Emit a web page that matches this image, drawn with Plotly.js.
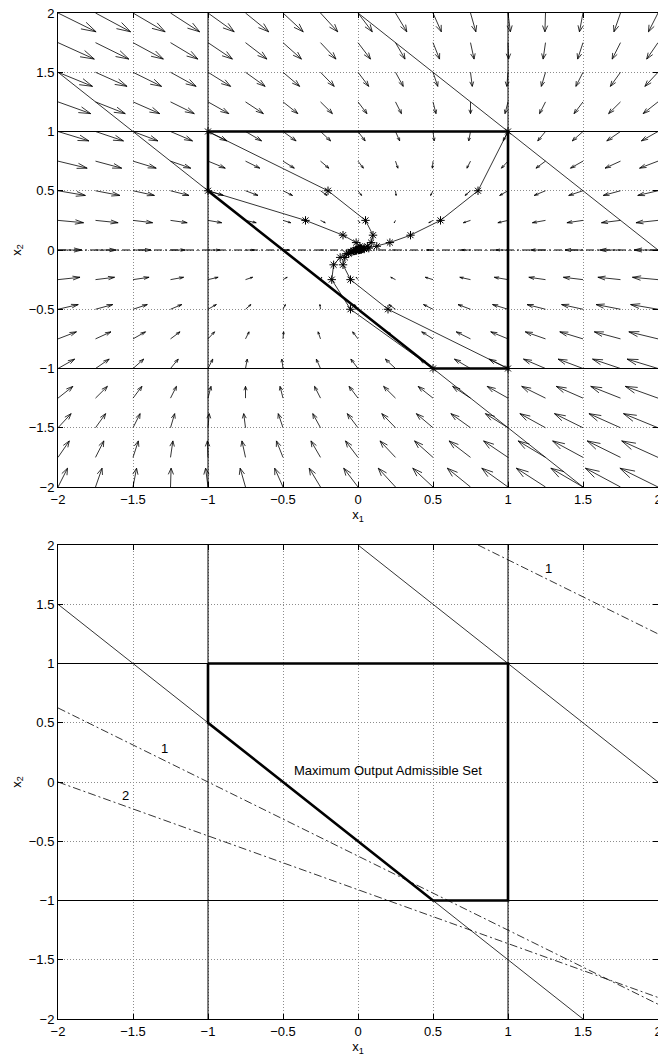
<!DOCTYPE html>
<html><head><meta charset="utf-8">
<script src="https://cdn.plot.ly/plotly-3.0.1.min.js"></script>
<style>html,body{margin:0;padding:0;background:#fff;}#chart{width:658px;height:1057px;}</style>
</head><body><div id="chart"></div>
<script>
// quiver grid (both axes)
const gridVals = [-2, -1.75, -1.5, -1.25, -1, -0.75, -0.5, -0.25, 0, 0.25, 0.5, 0.75, 1, 1.25, 1.5, 1.75, 2];
// system matrix x(k+1) = A x(k)
const A = [[0.5, 0.3], [0, 0.5]];
// maximum output admissible set
const setX = [-1, 1, 1, 0.5, -1, -1];
const setY = [1, 1, -1, -1, 0.5, 1];
// state constraint lines
const stateLimits = [-1, 1];
// output constraint lines x1+x2 = -0.5 and x1+x2 = 2
const outLowX = [-2, 1.5], outLowY = [1.5, -2];
const outHighX = [0, 2], outHighY = [2, 0];
// eigenvector line (top)
const eigX = [-2, 2], eigY = [0, 0];
// trajectories from the vertices
const traj1X = [1, 0.8, 0.55, 0.35, 0.2125, 0.125, 0.0719, 0.0406, 0.0227, 0.0125, 0.0068, 0.0037];
const traj1Y = [1, 0.5, 0.25, 0.125, 0.0625, 0.0313, 0.0156, 0.0078, 0.0039, 0.002, 0.001, 0.0005];
const traj2X = [-1, -0.2, 0.05, 0.1, 0.0875, 0.0625, 0.0406, 0.025, 0.0148, 0.0086, 0.0049];
const traj2Y = [1, 0.5, 0.25, 0.125, 0.0625, 0.0313, 0.0156, 0.0078, 0.0039, 0.002, 0.001];
const traj3X = [-1, -0.35, -0.1, -0.0125, 0.0125, 0.0156, 0.0125, 0.0086, 0.0055, 0.0033];
const traj3Y = [0.5, 0.25, 0.125, 0.0625, 0.0313, 0.0156, 0.0078, 0.0039, 0.002, 0.001];
const traj4X = [1, 0.2, -0.05, -0.1, -0.0875, -0.0625, -0.0406, -0.025, -0.0148, -0.0086];
const traj4Y = [-1, -0.5, -0.25, -0.125, -0.0625, -0.0313, -0.0156, -0.0078, -0.0039, -0.002];
const traj5X = [0.5, -0.05, -0.175, -0.1625, -0.1188, -0.0781, -0.0484, -0.0289, -0.0168, -0.0096];
const traj5Y = [-1, -0.5, -0.25, -0.125, -0.0625, -0.0313, -0.0156, -0.0078, -0.0039, -0.002];
// predicted output constraints (bottom)
const k1HighX = [0.8, 2], k1HighY = [2, 1.25];
const k1LowX = [-2, 2], k1LowY = [0.625, -1.875];
const k2LowX = [-2, 2], k2LowY = [0, -1.818];
const labelText = ['1', '1', '2', 'Maximum Output Admissible Set'];
const labelX = [1.27, -1.29, -1.55, 0.2];
const labelY = [1.8, 0.28, -0.11, 0.095];

// ---- quiver field (A - I) x, Matlab-style autoscale and heads
const n = gridVals.length;
const U = [], V = [], PX = [], PY = [];
for (const y of gridVals) for (const x of gridVals) {
  PX.push(x); PY.push(y);
  U.push((A[0][0] - 1) * x + A[0][1] * y);
  V.push(A[1][0] * x + (A[1][1] - 1) * y);
}
const delx = (gridVals[n-1] - gridVals[0]) / n;
const del = 2 * delx * delx;
let maxlen = 0;
for (let i = 0; i < U.length; i++) maxlen = Math.max(maxlen, Math.sqrt((U[i]*U[i] + V[i]*V[i]) / del));
const sc = 0.9 / maxlen;
const alpha = 0.33, beta = 0.33, eps = 1e-12;
const qx = [], qy = [];
for (let i = 0; i < U.length; i++) {
  const x = PX[i], y = PY[i], u = U[i]*sc, v = V[i]*sc;
  qx.push(x, x+u, null);
  qy.push(y, y+v, null);
  qx.push(x+u-alpha*(u+beta*(v+eps)), x+u, x+u-alpha*(u-beta*(v+eps)), null);
  qy.push(y+v-alpha*(v-beta*(u+eps)), y+v, y+v-alpha*(v+beta*(u+eps)), null);
}

const K = '#000';
function line(x, y, xa, ya, w, dash) {
  return {type:'scatter', mode:'lines', x:x, y:y, xaxis:xa, yaxis:ya,
    line:{color:K, width:w, dash:dash || 'solid'}, hoverinfo:'skip', showlegend:false};
}
function common(xa, ya) {
  const t = [];
  for (const s of stateLimits) {
    t.push(line([s, s], [-2, 2], xa, ya, 1));
    t.push(line([-2, 2], [s, s], xa, ya, 1));
  }
  t.push(line(outLowX, outLowY, xa, ya, 0.8));
  t.push(line(outHighX, outHighY, xa, ya, 0.8));
  t.push(line(setX, setY, xa, ya, 2.6));
  return t;
}
const DD = '8px,3px,2px,3px';
const traces = [];
traces.push(line(qx, qy, 'x', 'y', 0.8));
traces.push(line(eigX, eigY, 'x', 'y', 1.1, DD));
traces.push(...common('x', 'y'));
const trajs = [[traj1X, traj1Y], [traj2X, traj2Y], [traj3X, traj3Y], [traj4X, traj4Y], [traj5X, traj5Y]];
for (const [tx, ty] of trajs) {
  traces.push({type:'scatter', mode:'lines+markers', x:tx, y:ty, xaxis:'x', yaxis:'y',
    line:{color:K, width:0.8}, marker:{symbol:'asterisk-open', size:7, color:K, line:{color:K, width:1}},
    hoverinfo:'skip', showlegend:false});
}
traces.push(...common('x2', 'y2'));
traces.push(line(k1HighX, k1HighY, 'x2', 'y2', 0.8, DD));
traces.push(line(k1LowX, k1LowY, 'x2', 'y2', 0.8, DD));
traces.push(line(k2LowX, k2LowY, 'x2', 'y2', 0.8, DD));

const font = {family:'"Liberation Sans", Arial, Helvetica, sans-serif', size:13, color:'#000'};
function ax(extra) {
  return Object.assign({range:[-2, 2], tick0:0, dtick:0.5, ticks:'inside', ticklen:5, tickcolor:'#000', tickwidth:1,
    mirror:'allticks', showline:true, linecolor:'#000', linewidth:1, showgrid:true, gridcolor:'#8c8c8c',
    griddash:'1px,2px', gridwidth:1, zeroline:false, tickfont:font, fixedrange:true, automargin:false,
    ticklabeloverflow:'allow'}, extra);
}
const xdom = [58/658, 1];
const layout = {
  width:658, height:1057, margin:{l:0, r:0, t:0, b:0}, paper_bgcolor:'#fff', plot_bgcolor:'#fff',
  showlegend:false, hovermode:false, font:font,
  xaxis: ax({domain:xdom, anchor:'y', title:{text:'x<sub>1</sub>', font:font, standoff:4}}),
  yaxis: ax({domain:[1-487/1057, 1-13/1057], anchor:'x', title:{text:'x<sub>2</sub>', font:font, standoff:4}}),
  xaxis2: ax({domain:xdom, anchor:'y2', title:{text:'x<sub>1</sub>', font:font, standoff:4}}),
  yaxis2: ax({domain:[1-1019/1057, 1-545/1057], anchor:'x2', title:{text:'x<sub>2</sub>', font:font, standoff:4}}),
  annotations: labelText.map((t, i) => ({text:t, x:labelX[i], y:labelY[i], xref:'x2', yref:'y2',
    showarrow:false, font:font, xanchor:'center', yanchor:'middle'}))
};
Plotly.newPlot('chart', traces, layout, {staticPlot:true, displayModeBar:false});
</script>
</body></html>
